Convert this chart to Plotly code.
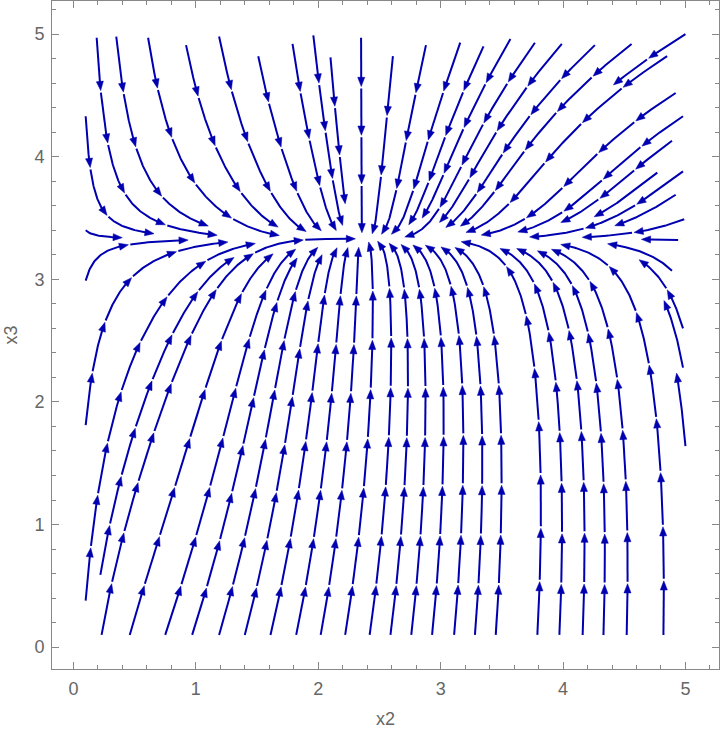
"""
plot.py
Stream plot of the (x2, x3) phase plane, drawn the way Mathematica's StreamPlot does it:
streamlines cut into pieces, each piece ending in an arrowhead.
"""

import numpy as np
import plotly.graph_objects as go

# equilibrium the flow converges to
EQ_X2 = 2.36
EQ_X3 = 3.33

# shape of the field, fitted to the directions seen in the picture
NULL_SHIFT = 0.3        # how far the x2-nullcline bends right below the equilibrium
C_TOP = 0.24            # x2 rate above the equilibrium level
C_BOTTOM = 0.50         # x2 rate below it
M_BOTTOM = 1.2          # x2 weight in the x3 rate below the equilibrium level
SWITCH_X3 = 3.2
SWITCH_W = 0.35

# plotted region
X2_MIN, X2_MAX = 0.1, 5.0
X3_MIN, X3_MAX = 0.1, 5.0

# start points of the streamlines
bottom_x2 = [0.23, 0.46, 0.75, 0.97, 1.19, 1.40, 1.61, 1.82, 2.02, 2.22, 2.42, 2.59,
             2.76, 2.93, 3.11, 3.28, 3.45, 3.79, 3.97, 4.16, 4.33, 4.52, 4.82]
left_x2 = [0.10, 0.22, 0.10, 0.10, 0.10]
left_x3 = [0.38, 0.59, 1.81, 2.99, 4.33]
top_x2 = [0.19, 0.35, 0.61, 0.92, 1.19, 1.51, 1.79, 1.96, 2.10, 2.35, 2.61, 2.88,
          3.16, 3.35, 3.57, 3.77, 3.99, 4.26, 4.56, 4.85]
top_x3 = [4.97, 4.98, 4.97, 4.91, 4.98, 4.82, 4.92, 4.99, 4.81, 4.97, 4.82, 4.91,
          4.93, 4.90, 4.96, 4.93, 4.92, 4.91, 4.92, 4.82]
right_x2 = [4.92, 4.98, 4.89, 4.98, 4.77, 4.92, 4.99, 4.94, 4.89, 4.98, 4.98, 5.00]
right_x3 = [4.52, 4.33, 4.13, 3.88, 3.87, 3.69, 3.49, 3.32, 3.07, 2.60, 2.28, 1.64]

LINE_COLOR = "#0000b0"
FRAME_COLOR = "#888888"
TEXT_COLOR = "#666666"
FONT = "Liberation Sans"

STEP = 0.01
D_TEST = 0.065
D_SEP = 0.21
PIECE = 0.42
HEAD_LEN = 0.075
HEAD_HALF = 0.029
GAP = 0.016


def field(x2, x3):
    w = 1.0 / (1.0 + np.exp((x3 - SWITCH_X3) / SWITCH_W))
    below = max(EQ_X3 - x3, 0.0)
    null_x2 = EQ_X2 + NULL_SHIFT * below ** 2
    c = C_TOP + (C_BOTTOM - C_TOP) * w
    m = M_BOTTOM * w
    f = c * x2 * (null_x2 - x2)
    g = (EQ_X3 - x3) * (1.0 + m * x2 ** 2)
    return f, g


def unit(x, y, sign):
    f, g = field(x, y)
    n = np.hypot(f, g)
    if n < 1e-9:
        return None
    return sign * f / n, sign * g / n


class PointGrid:
    def __init__(self, cell):
        self.cell = cell
        self.cells = {}

    def add(self, pts):
        for x, y in pts:
            key = (int(x / self.cell), int(y / self.cell))
            self.cells.setdefault(key, []).append((x, y))

    def near(self, x, y, r):
        cx, cy = int(x / self.cell), int(y / self.cell)
        k = int(np.ceil(r / self.cell))
        for i in range(cx - k, cx + k + 1):
            for j in range(cy - k, cy + k + 1):
                for px, py in self.cells.get((i, j), []):
                    if (px - x) ** 2 + (py - y) ** 2 < r * r:
                        return True
        return False


def trace(x, y, sign, grid, max_len=14.0):
    pts = [(x, y)]
    prev = None
    for _ in range(int(max_len / STEP)):
        k1 = unit(x, y, sign)
        if k1 is None:
            break
        k2 = unit(x + 0.5 * STEP * k1[0], y + 0.5 * STEP * k1[1], sign)
        if k2 is None:
            break
        k3 = unit(x + 0.5 * STEP * k2[0], y + 0.5 * STEP * k2[1], sign)
        if k3 is None:
            break
        k4 = unit(x + STEP * k3[0], y + STEP * k3[1], sign)
        if k4 is None:
            break
        dx = (k1[0] + 2 * k2[0] + 2 * k3[0] + k4[0]) / 6
        dy = (k1[1] + 2 * k2[1] + 2 * k3[1] + k4[1]) / 6
        if prev is not None and dx * prev[0] + dy * prev[1] < 0.5:
            break
        nx, ny = x + STEP * dx, y + STEP * dy
        if not (X2_MIN - 1e-6 <= nx <= X2_MAX + 1e-6 and X3_MIN - 1e-6 <= ny <= X3_MAX + 1e-6):
            break
        if np.hypot(nx - EQ_X2, ny - EQ_X3) < 0.05:
            break
        if grid.near(nx, ny, D_TEST):
            break
        x, y = nx, ny
        prev = (dx, dy)
        pts.append((x, y))
    return pts


def point_at(pts, cum, s):
    i = int(np.searchsorted(cum, s))
    i = min(max(i, 1), len(pts) - 1)
    t = (s - cum[i - 1]) / max(cum[i] - cum[i - 1], 1e-12)
    x = pts[i - 1][0] + t * (pts[i][0] - pts[i - 1][0])
    y = pts[i - 1][1] + t * (pts[i][1] - pts[i - 1][1])
    return x, y


def pieces(pts):
    """Cut a streamline into arrow pieces: polyline parts and arrowhead triangles."""
    arr = np.array(pts)
    seg = np.hypot(np.diff(arr[:, 0]), np.diff(arr[:, 1]))
    cum = np.concatenate([[0.0], np.cumsum(seg)])
    total = cum[-1]
    lines, heads = [], []
    if total < 0.12:
        return lines, heads
    n = max(1, int(round(total / PIECE)))
    size = total / n
    for k in range(n):
        s0 = k * size + (GAP if k > 0 else 0.0)
        s1 = (k + 1) * size
        base = s1 - HEAD_LEN
        inner = [p for p, c in zip(pts, cum) if s0 < c < base]
        lines.append([point_at(pts, cum, s0)] + inner + [point_at(pts, cum, base + 0.01)])
        tip = point_at(pts, cum, s1)
        bx, by = point_at(pts, cum, base)
        ux, uy = tip[0] - bx, tip[1] - by
        nrm = np.hypot(ux, uy)
        ux, uy = ux / nrm, uy / nrm
        bx, by = tip[0] - HEAD_LEN * ux, tip[1] - HEAD_LEN * uy
        heads.append([tip, (bx - HEAD_HALF * uy, by + HEAD_HALF * ux),
                      (bx + HEAD_HALF * uy, by - HEAD_HALF * ux), tip])
    return lines, heads


grid = PointGrid(D_TEST)
streams = []

seeds = [(x, X3_MIN) for x in bottom_x2]
seeds += list(zip(left_x2, left_x3))
seeds += list(zip(top_x2, top_x3))
seeds += list(zip(right_x2, right_x3))

for sx, sy in seeds:
    if grid.near(sx, sy, D_TEST):
        continue
    line = trace(sx, sy, 1.0, grid)
    if len(line) > 10:
        streams.append(line)
        grid.add(line)

# fill the remaining empty parts of the region
for sy in np.arange(X3_MAX, X3_MIN - 1e-9, -0.1):
    for sx in np.arange(X2_MIN, X2_MAX + 1e-9, 0.1):
        if grid.near(sx, sy, D_SEP):
            continue
        back = trace(sx, sy, -1.0, grid)
        fwd = trace(sx, sy, 1.0, grid)
        line = back[::-1] + fwd[1:]
        if len(line) > 10:
            streams.append(line)
            grid.add(line)

lx, ly, hx, hy = [], [], [], []
for line in streams:
    lines, heads = pieces(line)
    for part in lines:
        lx += [p[0] for p in part] + [None]
        ly += [p[1] for p in part] + [None]
    for tri in heads:
        hx += [p[0] for p in tri] + [None]
        hy += [p[1] for p in tri] + [None]

fig = go.Figure()
fig.add_trace(go.Scatter(x=lx, y=ly, mode="lines", line=dict(color=LINE_COLOR, width=2),
                         hoverinfo="skip", showlegend=False))
fig.add_trace(go.Scatter(x=hx, y=hy, mode="lines", fill="toself", fillcolor=LINE_COLOR,
                         line=dict(color=LINE_COLOR, width=0.5), hoverinfo="skip",
                         showlegend=False))

axis_style = dict(
    showline=True, linecolor=FRAME_COLOR, linewidth=1, mirror="allticks",
    ticks="inside", ticklen=7, tickcolor=FRAME_COLOR, tickwidth=1,
    tick0=0, dtick=1, showgrid=False, zeroline=False, automargin=False,
    minor=dict(ticks="inside", ticklen=4, tickcolor=FRAME_COLOR, dtick=0.2, tick0=0),
    tickfont=dict(family=FONT, size=18, color=TEXT_COLOR),
    ticklabelstandoff=3,
)

fig.update_layout(
    width=720, height=732,
    margin=dict(l=52, r=1, t=1, b=63),
    plot_bgcolor="white", paper_bgcolor="white",
    showlegend=False,
    xaxis=dict(range=[-0.175, 5.274],
               title=dict(text="x2", font=dict(family=FONT, size=18, color=TEXT_COLOR), standoff=14),
               **axis_style),
    yaxis=dict(range=[-0.178, 5.270],
               title=dict(text="x3", font=dict(family=FONT, size=18, color=TEXT_COLOR), standoff=12),
               **axis_style),
)

# the page's default body margin would shift the figure by 8px
fig.write_html("out.html", config={"displayModeBar": False},
               post_script="document.body.style.margin = '0';")
